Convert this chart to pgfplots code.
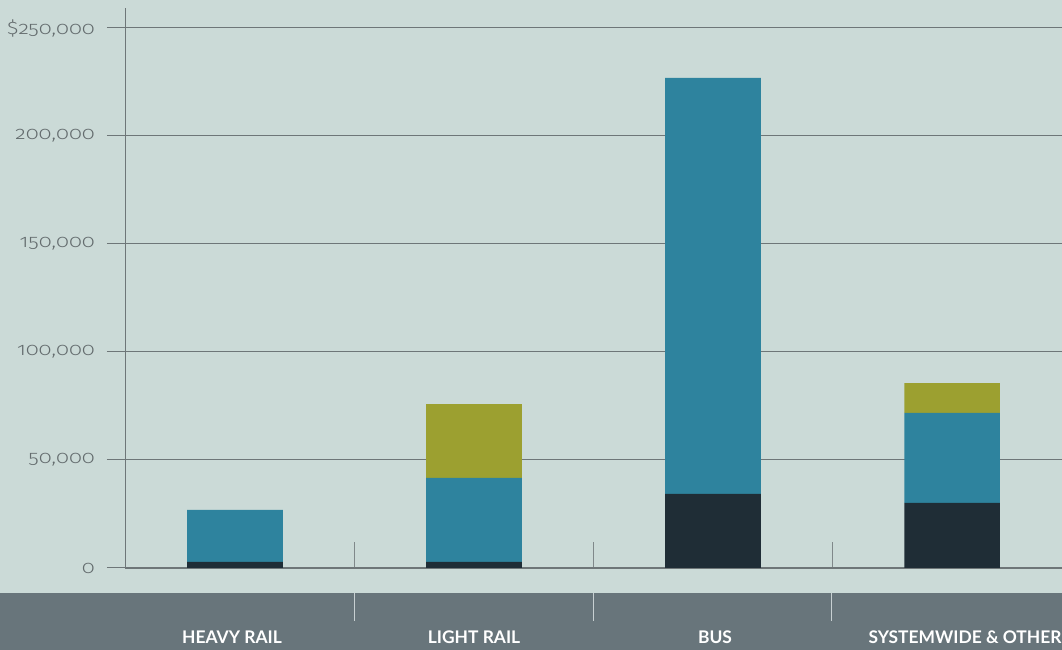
\documentclass[border=0pt]{standalone}
\usepackage{pgfplots}
\pgfplotsset{compat=1.18}
\usepackage{fontspec}
\setmainfont{Lato}
\newfontfamily\tickfont{Fira Sans Light}[Numbers=OldStyle, FakeStretch=1.2]
\definecolor{bg}{RGB}{203,218,215}
\definecolor{band}{RGB}{104,117,123}
\definecolor{gridc}{RGB}{110,118,120}
\definecolor{sepc}{RGB}{128,136,138}
\definecolor{bandline}{RGB}{200,208,210}
\definecolor{tickc}{RGB}{100,108,110}
\definecolor{darkc}{RGB}{31,45,54}
\definecolor{tealc}{RGB}{46,131,158}
\definecolor{olivec}{RGB}{156,160,48}
\begin{document}
\begin{tikzpicture}[x=1pt,y=1pt]
\useasboundingbox (0,0) rectangle (1062,650);
\clip (0,0) rectangle (1062,650);
\fill[bg] (0,0) rectangle (1062,650);
\fill[band] (0,0) rectangle (1062,57);
\begin{axis}[
  at={(125pt,82pt)}, anchor=south west,
  scale only axis, width=937pt, height=560pt,
  xmin=-0.46, xmax=3.46, ymin=0, ymax=259259,
  axis line style={draw=none},
  xtick=\empty,
  ytick={0,50000,100000,150000,200000,250000},
  yticklabels={0,{50,000},{100,000},{150,000},{200,000},{\$250,000}},
  yticklabel style={font=\tickfont\fontsize{18}{20}\selectfont, text=tickc, inner sep=0pt, xshift=-12pt},
  ytick pos=left,
  tick align=outside,
  major tick length=18pt,
  ytick style={draw=gridc, line width=1pt},
  ymajorgrids,
  grid style={draw=gridc, line width=1pt},
  ybar stacked, bar width=0.4,
  clip=false,
]
\addplot[fill=darkc, draw=none] coordinates {(0,2800) (1,2800) (2,34300) (3,30100)};
\addplot[fill=tealc, draw=none] coordinates {(0,24100) (1,38900) (2,192600) (3,41700)};
\addplot[fill=olivec, draw=none] coordinates {(0,0) (1,34200) (2,0) (3,13800)};
\draw[gridc, line width=1pt] (axis cs:-0.46,0) -- (rel axis cs:0,1);
\draw[gridc, line width=1.4pt] (axis cs:-0.46,0) -- (axis cs:3.46,0);
\draw[sepc, line width=1pt] (axis cs:0.5,0) -- (axis cs:0.5,12000);
\draw[sepc, line width=1pt] (axis cs:1.5,0) -- (axis cs:1.5,12000);
\draw[sepc, line width=1pt] (axis cs:2.5,0) -- (axis cs:2.5,12000);
\end{axis}
\draw[bandline, line width=1pt] (354,29) -- (354,57);
\draw[bandline, line width=1pt] (593,29) -- (593,57);
\draw[bandline, line width=1pt] (831,29) -- (831,57);
\begin{scope}[every node/.style={anchor=base, text=white, font=\bfseries\fontsize{17.4}{20}\selectfont, inner sep=0pt}]
\node at (232,6) {HEAVY RAIL};
\node at (474,6) {LIGHT RAIL};
\node at (715,6) {BUS};
\node at (965,6) {SYSTEMWIDE \& OTHER};
\end{scope}
\end{tikzpicture}
\end{document}
